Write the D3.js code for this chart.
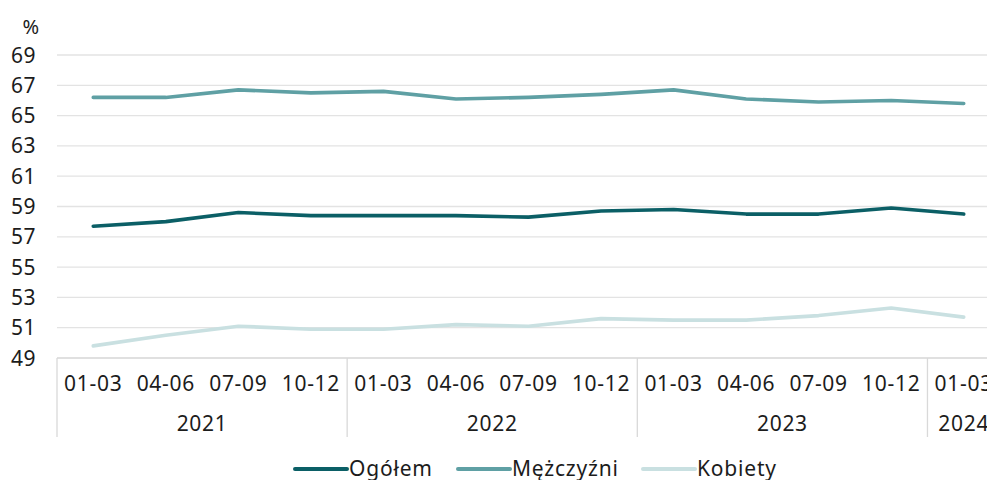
<!DOCTYPE html>
<html>
<head>
<meta charset="utf-8">
<script src="https://cdn.jsdelivr.net/npm/d3@7"></script>
<style>
  body { margin: 0; background: #fff; }
  svg { display: block; font-family: "Noto Sans", sans-serif; }
  text { fill: #1c1c1c; }
</style>
</head>
<body>
<div id="chart"></div>
<script>
// Data
const quarters = ["01-03", "04-06", "07-09", "10-12",
  "01-03", "04-06", "07-09", "10-12",
  "01-03", "04-06", "07-09", "10-12",
  "01-03"];
const years = ["2021", "2022", "2023", "2024"];
const yearCounts = [4, 4, 4, 1];
const yTicks = [49, 51, 53, 55, 57, 59, 61, 63, 65, 67, 69];

const ogolem = [57.7, 58.0, 58.6, 58.4, 58.4, 58.4, 58.3, 58.7, 58.8, 58.5, 58.5, 58.9, 58.5];
const mezczyzni = [66.2, 66.2, 66.7, 66.5, 66.6, 66.1, 66.2, 66.4, 66.7, 66.1, 65.9, 66.0, 65.8];
const kobiety = [49.8, 50.5, 51.1, 50.9, 50.9, 51.2, 51.1, 51.6, 51.5, 51.5, 51.8, 52.3, 51.7];

const series = [
  { name: "Ogółem", values: ogolem, color: "#0b5f66" },
  { name: "Mężczyźni", values: mezczyzni, color: "#5fa0a4" },
  { name: "Kobiety", values: kobiety, color: "#c9e0e1" }
];

const width = 987, height = 480;
const plotLeft = 57, plotRight = 1000, plotTop = 55, plotBottom = 358;

const svg = d3.select("#chart").append("svg")
  .attr("width", width)
  .attr("height", height);

const xScale = d3.scaleBand()
  .domain(d3.range(quarters.length))
  .range([plotLeft, plotRight]);

const yScale = d3.scaleLinear()
  .domain([49, 69])
  .range([plotBottom, plotTop]);

// gridlines
svg.append("g")
  .selectAll("line")
  .data(yTicks)
  .enter()
  .append("line")
  .attr("x1", plotLeft)
  .attr("x2", plotRight)
  .attr("y1", (d) => yScale(d))
  .attr("y2", (d) => yScale(d))
  .attr("stroke", (d) => d === 49 ? "#d6d6d6" : "#e3e3e3")
  .attr("stroke-width", 1.3);

// y labels
svg.append("g")
  .selectAll("text")
  .data(yTicks)
  .enter()
  .append("text")
  .attr("x", 36)
  .attr("y", (d) => yScale(d))
  .attr("dy", "0.36em")
  .attr("text-anchor", "end")
  .style("font-size", "21px")
  .style("letter-spacing", "0.5px")
  .text((d) => d);

svg.append("text")
  .attr("x", 39)
  .attr("y", 34)
  .attr("text-anchor", "end")
  .style("font-size", "20px")
  .text("%");

// quarter labels
svg.append("g")
  .selectAll("text")
  .data(quarters)
  .enter()
  .append("text")
  .attr("x", (d, i) => xScale(i) + xScale.bandwidth() / 2)
  .attr("y", 391)
  .attr("text-anchor", "middle")
  .style("font-size", "21px")
  .style("letter-spacing", "0.7px")
  .text((d) => d);

// year groups
let start = 0;
const yearGroups = years.map((y, i) => {
  const g = { year: y, start: start, count: yearCounts[i] };
  start += yearCounts[i];
  return g;
});

svg.append("g")
  .selectAll("line")
  .data(yearGroups)
  .enter()
  .append("line")
  .attr("x1", (d) => xScale(d.start))
  .attr("x2", (d) => xScale(d.start))
  .attr("y1", plotBottom)
  .attr("y2", 437)
  .attr("stroke", "#d9d9d9")
  .attr("stroke-width", 1.3);

svg.append("g")
  .selectAll("text")
  .data(yearGroups)
  .enter()
  .append("text")
  .attr("x", (d) => xScale(d.start) + d.count * xScale.bandwidth() / 2)
  .attr("y", 431)
  .attr("text-anchor", "middle")
  .style("font-size", "21px")
  .style("letter-spacing", "0.7px")
  .text((d) => d.year);

// lines
const line = d3.line()
  .x((d, i) => xScale(i) + xScale.bandwidth() / 2)
  .y((d) => yScale(d));

series.forEach((s) => {
  svg.append("path")
    .datum(s.values)
    .attr("fill", "none")
    .attr("stroke", s.color)
    .attr("stroke-width", 3.6)
    .attr("stroke-linejoin", "round")
    .attr("stroke-linecap", "round")
    .attr("d", line);
});

// legend
const legendX = [295, 458, 643];
const legend = svg.append("g")
  .selectAll("g")
  .data(series)
  .enter()
  .append("g")
  .attr("transform", (d, i) => "translate(" + legendX[i] + ",0)");

legend.append("line")
  .attr("x1", 0)
  .attr("x2", 52)
  .attr("y1", 469)
  .attr("y2", 469)
  .attr("stroke", (d) => d.color)
  .attr("stroke-width", 4)
  .attr("stroke-linecap", "round");

legend.append("text")
  .attr("x", 54)
  .attr("y", 476)
  .style("font-size", "21px")
  .style("letter-spacing", "0.8px")
  .text((d) => d.name);
</script>
</body>
</html>
